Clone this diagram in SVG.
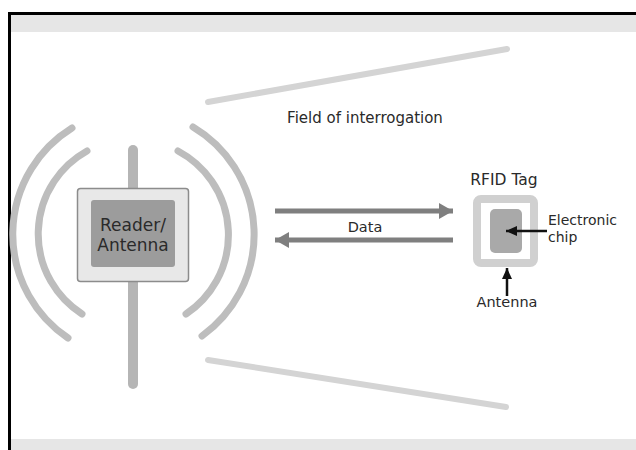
<svg xmlns="http://www.w3.org/2000/svg" width="636" height="450" viewBox="0 0 636 450">
  <defs>
    <style>
      text { font-family: "DejaVu Sans", "Liberation Sans", sans-serif; fill: #2a2a2a; }
      .wave { fill: none; stroke: #bdbdbd; stroke-width: 7; stroke-linecap: round; }
      .field { fill: none; stroke: #d4d4d4; stroke-width: 6; stroke-linecap: round; }
      .data { fill: none; stroke: #7f7f7f; stroke-width: 5; }
      .pointer { fill: none; stroke: #111111; stroke-width: 2.5; }
    </style>
    <marker id="dataHead" markerUnits="userSpaceOnUse" markerWidth="16" markerHeight="18" refX="14" refY="9" orient="auto">
      <path d="M0,1 L14,9 L0,17 Z" fill="#7f7f7f"/>
    </marker>
    <marker id="pointerHead" markerUnits="userSpaceOnUse" markerWidth="12" markerHeight="12" refX="11" refY="6" orient="auto">
      <path d="M0,1 L11,6 L0,11 Z" fill="#111111"/>
    </marker>
  </defs>

  <!-- frame -->
  <rect x="0" y="0" width="636" height="450" fill="#ffffff"/>
  <rect x="11" y="15" width="625" height="17" fill="#e6e6e6"/>
  <rect x="11" y="439" width="625" height="11" fill="#e6e6e6"/>
  <rect x="8" y="12" width="628" height="3" fill="#000000"/>
  <rect x="8" y="12" width="3" height="438" fill="#000000"/>

  <!-- field of interrogation boundaries -->
  <g id="field">
    <line class="field" x1="208" y1="102" x2="507" y2="49"/>
    <line class="field" x1="208" y1="360" x2="506" y2="407"/>
    <text x="365" y="123" font-size="15" text-anchor="middle">Field of interrogation</text>
  </g>

  <!-- reader with antenna mast and radiated waves -->
  <g id="reader">
    <line x1="133" y1="150" x2="133" y2="384" stroke="#b5b5b5" stroke-width="10" stroke-linecap="round"/>
    <path class="wave" d="M72,128 A125,125 0 0,0 68,338"/>
    <path class="wave" d="M87,151 A95,95 0 0,0 82,314"/>
    <path class="wave" d="M178,151 A95,95 0 0,1 186,314"/>
    <path class="wave" d="M193,127 A125,125 0 0,1 202,336"/>
    <rect x="77.5" y="188.5" width="111" height="93" rx="3" fill="#e8e8e8" stroke="#8c8c8c" stroke-width="1.5"/>
    <rect x="91" y="200" width="84" height="67" rx="3" fill="#9c9c9c"/>
    <text x="133" y="231" font-size="17" text-anchor="middle">Reader/</text>
    <text x="133" y="251" font-size="17" text-anchor="middle">Antenna</text>
  </g>

  <!-- RFID tag -->
  <g id="tag">
    <text x="504" y="185" font-size="15.5" text-anchor="middle">RFID Tag</text>
    <rect x="477" y="199" width="57" height="64" rx="4" fill="none" stroke="#d0d0d0" stroke-width="8"/>
    <rect x="490" y="209" width="32" height="44" rx="5" fill="#a9a9a9"/>
  </g>

  <g id="tag-labels">
    <text x="548" y="225" font-size="14">Electronic</text>
    <text x="548" y="242" font-size="14">chip</text>
    <text x="507" y="307" font-size="14.5" text-anchor="middle">Antenna</text>
  </g>

  <!-- connectors -->
  <g id="connectors">
    <line class="data" x1="275" y1="211" x2="453" y2="211" marker-end="url(#dataHead)"/>
    <line class="data" x1="453" y1="240" x2="275" y2="240" marker-end="url(#dataHead)"/>
    <text x="365" y="232" font-size="14.5" text-anchor="middle">Data</text>
    <line class="pointer" x1="547" y1="231" x2="506" y2="231" marker-end="url(#pointerHead)"/>
    <line class="pointer" x1="507" y1="296" x2="507" y2="268" marker-end="url(#pointerHead)"/>
  </g>
</svg>
